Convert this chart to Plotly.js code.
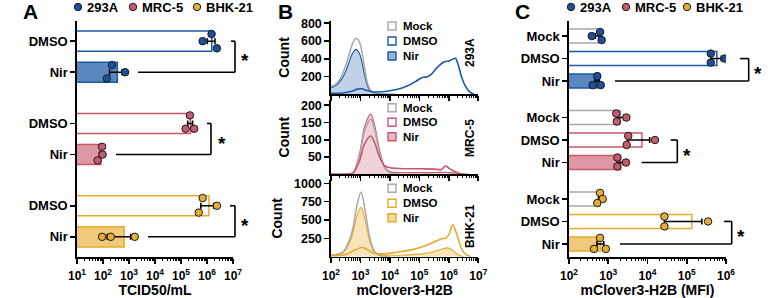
<!DOCTYPE html>
<html><head><meta charset="utf-8">
<script src="https://cdn.plot.ly/plotly-3.0.1.min.js"></script>
<style>html,body{margin:0;padding:0;background:#fff}#chart{width:784px;height:298px}</style>
</head><body><div id="chart"></div>
<script>
// ================= DATA =================
const cellLines = ['293A', 'MRC-5', 'BHK-21'];

// Panel A: virus titer (TCID50/mL), three replicates each
const titerTreatments = ['DMSO', 'Nir'];
const titer293A_DMSO = [6.8e5, 1.5e6, 2.4e6];
const titer293A_Nir = [220, 140, 710];
const titerMRC5_DMSO = [2.2e5, 1.5e5, 3.2e5];
const titerMRC5_Nir = [92, 96, 62];
const titerBHK21_DMSO = [6.8e5, 2.4e6, 4.8e5];
const titerBHK21_Nir = [92, 200, 1660];

// Panel C: mClover3-H2B MFI, three replicates each
const mfiTreatments = ['Mock', 'DMSO', 'Nir'];
const mfi293A_Mock = [380, 620, 680];
const mfi293A_DMSO = [4.1e5, 4.1e5, 9.3e5];
const mfi293A_Nir = [525, 400, 645];
const mfiMRC5_Mock = [1600, 1650, 2900];
const mfiMRC5_DMSO = [3240, 2950, 15500];
const mfiMRC5_Nir = [1700, 1700, 2830];
const mfiBHK21_Mock = [617, 720, 525];
const mfiBHK21_DMSO = [27000, 27000, 350000];
const mfiBHK21_Nir = [617, 433, 870];

// Panel B: histograms (log10 mClover3-H2B intensity, cell count)
const histTreatments = ['Mock', 'DMSO', 'Nir'];
const h293A_Mock_logx = [2.0, 2.15, 2.35, 2.5, 2.6, 2.73, 2.85, 2.95, 3.03, 3.14, 3.25, 3.37, 3.55, 3.8];
const h293A_Mock_n    = [90, 110, 200, 320, 430, 570, 630, 600, 510, 300, 110, 35, 5, 0];
const h293A_Nir_logx  = [2.0, 2.15, 2.35, 2.5, 2.6, 2.73, 2.85, 2.95, 3.03, 3.14, 3.25, 3.37, 3.55, 3.8, 4.2];
const h293A_Nir_n     = [75, 95, 165, 260, 350, 460, 505, 470, 390, 220, 85, 30, 8, 2, 0];
const h293A_DMSO_logx = [2.0, 2.4, 2.7, 2.9, 3.05, 3.2, 3.4, 3.7, 4.0, 4.3, 4.6, 4.9, 5.1, 5.25, 5.4, 5.6, 5.85, 6.0, 6.1, 6.22, 6.32, 6.42, 6.55, 6.7, 6.85];
const h293A_DMSO_n    = [10, 15, 35, 58, 62, 45, 28, 28, 40, 60, 95, 150, 190, 195, 225, 300, 365, 375, 390, 405, 330, 210, 100, 30, 0];

const hMRC5_Mock_logx = [2.0, 2.6, 2.75, 2.97, 3.14, 3.35, 3.48, 3.65, 3.82, 3.99, 4.3];
const hMRC5_Mock_n    = [0, 1, 4, 55, 125, 159, 130, 62, 18, 5, 0];
const hMRC5_Nir_logx  = [2.0, 2.6, 2.75, 2.97, 3.14, 3.35, 3.48, 3.65, 3.82, 3.99, 4.3, 5.0, 5.5, 5.9, 6.2, 6.5, 6.7];
const hMRC5_Nir_n     = [0, 1, 5, 61, 138, 174, 142, 70, 22, 8, 5, 5, 5, 6, 4, 1, 0];
const hMRC5_DMSO_logx = [2.0, 2.6, 2.75, 2.97, 3.14, 3.35, 3.48, 3.65, 3.82, 3.99, 4.3, 5.0, 5.5, 5.75, 5.88, 6.0, 6.2, 6.45, 6.6];
const hMRC5_DMSO_n    = [0, 1, 4, 40, 88, 111, 92, 50, 25, 19, 17, 16, 15, 14, 24, 18, 8, 1, 0];

const hBHK21_Mock_logx = [2.0, 2.4, 2.6, 2.75, 2.88, 3.02, 3.15, 3.3, 3.45, 3.6, 3.8, 4.0];
const hBHK21_Mock_n    = [20, 60, 200, 400, 700, 881, 650, 290, 90, 25, 5, 0];
const hBHK21_Nir_logx  = [2.0, 2.4, 2.6, 2.75, 2.88, 3.02, 3.15, 3.3, 3.45, 3.6, 4.0, 4.5, 5.0, 5.4, 5.7, 5.97, 6.15, 6.3, 6.5];
const hBHK21_Nir_n     = [20, 60, 170, 330, 560, 672, 520, 230, 80, 35, 20, 22, 35, 60, 95, 120, 80, 30, 0];
const hBHK21_DMSO_logx = [2.0, 2.5, 2.8, 3.05, 3.2, 3.4, 3.6, 4.0, 4.4, 4.8, 5.2, 5.5, 5.75, 5.9, 6.0, 6.13, 6.25, 6.35, 6.45, 6.6, 6.75];
const hBHK21_DMSO_n    = [10, 30, 90, 125, 105, 55, 40, 48, 70, 100, 150, 200, 245, 255, 300, 435, 330, 200, 90, 25, 0];

// Tick labels
const countTicks293A = [200, 400, 600, 800];
const countTicksMRC5 = [50, 100, 150, 200];
const countTicksBHK21 = [250, 500, 750, 1000];
const titerExponents = [1, 2, 3, 4, 5, 6, 7];
const histExponents = [2, 3, 4, 5, 6, 7];
const mfiExponents = [2, 3, 4, 5, 6];

// ================= STYLE / GEOMETRY =================
const FONT = 'Liberation Sans, Arial, Helvetica, sans-serif';
const W = 784, H = 298;
const px2x = p => p / W;
const px2y = p => 1 - p / H;
const lineCol = {'293A': '#1b5aa5', 'MRC-5': '#c9586e', 'BHK-21': '#e6aa2a'};
const barFill = {'293A': 'rgba(27,90,165,0.72)', 'MRC-5': 'rgba(201,88,110,0.62)', 'BHK-21': 'rgba(230,170,42,0.62)'};
const histFill = {'293A': 'rgba(27,90,165,0.27)', 'MRC-5': 'rgba(201,88,110,0.27)', 'BHK-21': 'rgba(230,170,42,0.32)'};
const legFill = {'293A': 'rgba(27,90,165,0.45)', 'MRC-5': 'rgba(201,88,110,0.4)', 'BHK-21': 'rgba(230,170,42,0.45)'};
const dotFill = {'293A': '#1d4f9a', 'MRC-5': '#c75a6f', 'BHK-21': '#e4ad33'};
const mockGray = '#a8a8a8';

// point jitter (fraction of row pitch)
const jitterA = {'293A': {DMSO: [0, -0.23, 0.23], Nir: [-0.23, 0.2, 0]},
                 'MRC-5': {DMSO: [-0.26, 0.17, 0.17], Nir: [-0.25, 0, 0.19]},
                 'BHK-21': {DMSO: [-0.25, 0, 0.22], Nir: [0, 0, 0]}};
const jitterC = {'293A': {Mock: [0, -0.18, 0.18], DMSO: [-0.22, 0.18, 0], Nir: [-0.22, 0.18, 0.18]},
                 'MRC-5': {Mock: [-0.18, 0.18, 0], DMSO: [-0.18, 0.22, 0], Nir: [-0.22, 0.18, 0]},
                 'BHK-21': {Mock: [-0.27, 0, 0.18], DMSO: [-0.22, 0.22, 0], Nir: [-0.27, 0.22, 0.22]}};

const titer = {'293A': {DMSO: titer293A_DMSO, Nir: titer293A_Nir},
               'MRC-5': {DMSO: titerMRC5_DMSO, Nir: titerMRC5_Nir},
               'BHK-21': {DMSO: titerBHK21_DMSO, Nir: titerBHK21_Nir}};
const mfi = {'293A': {Mock: mfi293A_Mock, DMSO: mfi293A_DMSO, Nir: mfi293A_Nir},
             'MRC-5': {Mock: mfiMRC5_Mock, DMSO: mfiMRC5_DMSO, Nir: mfiMRC5_Nir},
             'BHK-21': {Mock: mfiBHK21_Mock, DMSO: mfiBHK21_DMSO, Nir: mfiBHK21_Nir}};
const hist = {
  '293A': {Mock: [h293A_Mock_logx, h293A_Mock_n], DMSO: [h293A_DMSO_logx, h293A_DMSO_n], Nir: [h293A_Nir_logx, h293A_Nir_n]},
  'MRC-5': {Mock: [hMRC5_Mock_logx, hMRC5_Mock_n], DMSO: [hMRC5_DMSO_logx, hMRC5_DMSO_n], Nir: [hMRC5_Nir_logx, hMRC5_Nir_n]},
  'BHK-21': {Mock: [hBHK21_Mock_logx, hBHK21_Mock_n], DMSO: [hBHK21_DMSO_logx, hBHK21_DMSO_n], Nir: [hBHK21_Nir_logx, hBHK21_Nir_n]}};
const countTicks = {'293A': countTicks293A, 'MRC-5': countTicksMRC5, 'BHK-21': countTicksBHK21};

const mean = a => a.reduce((s, v) => s + v, 0) / a.length;
const sem = a => { const m = mean(a); return Math.sqrt(a.reduce((s, v) => s + (v - m) ** 2, 0) / (a.length - 1) / a.length); };

const traces = [], shapes = [], annotations = [];
const bold = (size) => ({family: FONT, size: size, color: '#000', weight: 'bold'});

// ---------- bar panels (A and C) ----------
function barPanel(data, treatments, jitter, groupPitch, thick, xa, ya) {
  const tickvals = [], ticktext = [];
  const pos = {};
  cellLines.forEach((cl, g) => {
    pos[cl] = {};
    const px = [], py = [];
    treatments.forEach((tr, i) => {
      const p = g * groupPitch + i;
      pos[cl][tr] = p;
      tickvals.push(p); ticktext.push(tr);
      const vals = data[cl][tr];
      const isMock = tr === 'Mock', isNir = tr === 'Nir';
      traces.push({type: 'bar', orientation: 'h', x: [mean(vals)], y: [p], width: thick,
        xaxis: xa, yaxis: ya, hoverinfo: 'skip',
        marker: {color: isNir ? barFill[cl] : '#ffffff', line: {color: isMock ? mockGray : lineCol[cl], width: 1.5}},
        error_x: {type: 'data', array: [sem(vals)], color: '#000', thickness: 1.6, width: 3}});
      vals.forEach((v, k) => { px.push(v); py.push(p + jitter[cl][tr][k]); });
    });
    traces.push({type: 'scatter', mode: 'markers', x: px, y: py, xaxis: xa, yaxis: ya, hoverinfo: 'skip',
      marker: {size: 7.5, color: dotFill[cl], line: {color: '#1a1a1a', width: 1}}});
  });
  return {tickvals, ticktext, pos};
}
const A = barPanel(titer, titerTreatments, jitterA, 2.65, 0.65, 'x', 'y');
const C = barPanel(mfi, mfiTreatments, jitterC, 3.62, 0.62, 'x5', 'y5');

function bracket(yref, p1, p2, xLow, xTop, xV, xStar) {
  const ln = {color: '#000', width: 1.6};
  shapes.push({type: 'line', xref: 'paper', yref: yref, x0: px2x(xTop), x1: px2x(xV), y0: p1, y1: p1, line: ln});
  shapes.push({type: 'line', xref: 'paper', yref: yref, x0: px2x(xV), x1: px2x(xV), y0: p1, y1: p2, line: ln});
  shapes.push({type: 'line', xref: 'paper', yref: yref, x0: px2x(xLow), x1: px2x(xV), y0: p2, y1: p2, line: ln});
  annotations.push({xref: 'paper', yref: yref, x: px2x(xStar), y: (p1 + p2) / 2, text: '*', showarrow: false,
    xanchor: 'center', yanchor: 'middle', yshift: -4, font: bold(19)});
}
bracket('y', A.pos['293A'].DMSO, A.pos['293A'].Nir, 138, 231, 235, 245);
bracket('y', A.pos['MRC-5'].DMSO, A.pos['MRC-5'].Nir, 116, 207, 211, 221.5);
bracket('y', A.pos['BHK-21'].DMSO, A.pos['BHK-21'].Nir, 148, 230, 235, 245);
bracket('y5', C.pos['293A'].DMSO, C.pos['293A'].Nir, 615, 740, 748.7, 758);
bracket('y5', C.pos['MRC-5'].DMSO, C.pos['MRC-5'].Nir, 641.7, 670.7, 677.3, 686.7);
bracket('y5', C.pos['BHK-21'].DMSO, C.pos['BHK-21'].Nir, 620, 724, 731.7, 740.7);

// ---------- histogram panel (B) ----------
const bAxes = [['x2', 'y2'], ['x3', 'y3'], ['x4', 'y4']];
cellLines.forEach((cl, g) => {
  const [xa, ya] = bAxes[g];
  const toX = arr => arr.map(v => Math.pow(10, v));
  const nir = hist[cl].Nir, mock = hist[cl].Mock, dmso = hist[cl].DMSO;
  traces.push({type: 'scatter', mode: 'lines', x: toX(nir[0]), y: nir[1], xaxis: xa, yaxis: ya, hoverinfo: 'skip',
    fill: 'tozeroy', fillcolor: histFill[cl], line: {color: lineCol[cl], width: 1.1, shape: 'spline', smoothing: 0.9}});
  traces.push({type: 'scatter', mode: 'lines', x: toX(mock[0]), y: mock[1], xaxis: xa, yaxis: ya, hoverinfo: 'skip',
    line: {color: mockGray, width: 1.5, shape: 'spline', smoothing: 0.9}});
  traces.push({type: 'scatter', mode: 'lines', x: toX(dmso[0]), y: dmso[1], xaxis: xa, yaxis: ya, hoverinfo: 'skip',
    line: {color: lineCol[cl], width: 1.6, shape: 'spline', smoothing: 0.9}});
});

// ---------- layout ----------
const axisBase = () => ({showline: true, linecolor: '#000', linewidth: 1.7, ticks: 'outside', tickcolor: '#000',
  tickwidth: 1.6, ticklen: 5, showgrid: false, zeroline: false, fixedrange: true, tickfont: bold(12)});
const powLabels = ex => ex.map(p => '10<sup>' + p + '</sup>');
const logX = (domPx, exps, anchor, labels) => Object.assign(axisBase(), {
  type: 'log', domain: [px2x(domPx[0]), px2x(domPx[1])], range: [exps[0], exps[exps.length - 1]], anchor: anchor,
  tickvals: exps.map(p => Math.pow(10, p)), ticktext: powLabels(exps), showticklabels: labels, ticklabelstandoff: 2});
// minor ticks (2..9 x 10^k) on an overlaying axis
const minorAxis = (domPx, exps, over, anchor) => {
  const vals = [];
  for (let p = exps[0]; p < exps[exps.length - 1]; p++) for (let m = 2; m <= 9; m++) vals.push(m * Math.pow(10, p));
  return {type: 'log', overlaying: over, anchor: anchor, domain: [px2x(domPx[0]), px2x(domPx[1])],
    range: [exps[0], exps[exps.length - 1]], tickvals: vals, showticklabels: false, ticks: 'outside', ticklen: 3,
    tickwidth: 1, tickcolor: '#000', showline: false, showgrid: false, zeroline: false, fixedrange: true};
};

const layout = {
  width: W, height: H, margin: {l: 0, r: 0, t: 0, b: 0}, paper_bgcolor: '#fff', plot_bgcolor: 'rgba(0,0,0,0)',
  showlegend: false, barmode: 'overlay', font: {family: FONT, color: '#000'},
  xaxis: Object.assign(logX([77, 233], titerExponents, 'y', true), {title: {text: 'TCID50/mL', font: bold(14), standoff: 0}}),
  yaxis: Object.assign(axisBase(), {domain: [px2y(257), px2y(21)], range: [6.95, -0.65], anchor: 'x',
    tickvals: A.tickvals, ticktext: A.ticktext, tickfont: bold(13)}),
  xaxis5: Object.assign(logX([569, 726], mfiExponents, 'y5', true), {title: {text: 'mClover3-H2B (MFI)', font: bold(14), standoff: 0}}),
  yaxis5: Object.assign(axisBase(), {domain: [px2y(257), px2y(21)], range: [9.82, -0.67], anchor: 'x5',
    tickvals: C.tickvals, ticktext: C.ticktext, tickfont: bold(13)}),
  xaxis6: minorAxis([77, 233], titerExponents, 'x', 'y'),
  xaxis10: minorAxis([569, 726], mfiExponents, 'x5', 'y5'),
  shapes: shapes, annotations: annotations
};
traces.push({type: 'scatter', x: [], y: [], xaxis: 'x6', yaxis: 'y'});
traces.push({type: 'scatter', x: [], y: [], xaxis: 'x10', yaxis: 'y5'});
const bDom = [[20.5, 94.3, 830], [100, 174.3, 215], [180, 256.7, 1045]];
cellLines.forEach((cl, g) => {
  const n = g + 2;
  layout['xaxis' + n] = logX([331, 478.3], histExponents, 'y' + n, g === 2);
  if (g === 2) layout['xaxis' + n].title = {text: 'mClover3-H2B', font: bold(14), standoff: 0};
  layout['yaxis' + n] = Object.assign(axisBase(), {domain: [px2y(bDom[g][1]), px2y(bDom[g][0])], range: [0, bDom[g][2]],
    anchor: 'x' + n, tickvals: countTicks[cl], tickfont: bold(12.5), title: {text: 'Count', font: bold(14), standoff: 8}});
  layout['xaxis' + (n + 5)] = minorAxis([331, 478.3], histExponents, 'x' + n, 'y' + n);
  traces.push({type: 'scatter', x: [], y: [], xaxis: 'x' + (n + 5), yaxis: 'y' + n});
});

// panel letters
[['A', 30], ['B', 285], ['C', 522]].forEach(([t, x]) => annotations.push({xref: 'paper', yref: 'paper',
  x: px2x(x), y: px2y(11), text: t, showarrow: false, xanchor: 'center', yanchor: 'middle', font: bold(21)}));

// top legends (A and C)
function topLegend(xs) {
  cellLines.forEach((cl, i) => {
    const cx = xs[i], cy = 7, r = 3.7;
    shapes.push({type: 'circle', xref: 'paper', yref: 'paper', x0: px2x(cx - r), x1: px2x(cx + r), y0: px2y(cy + r), y1: px2y(cy - r),
      fillcolor: dotFill[cl], line: {color: '#1a1a1a', width: 1}});
    annotations.push({xref: 'paper', yref: 'paper', x: px2x(cx + 6.5), y: px2y(cy), text: cl, showarrow: false,
      xanchor: 'left', yanchor: 'middle', font: bold(13)});
  });
}
topLegend([78, 133, 197]);
topLegend([571, 626, 687]);

// panel B legends and side labels
const bLegRows = [[26, 41, 56], [107.7, 122.3, 136.7], [188.3, 203.3, 217.7]];
const bSide = [53, 138, 226];
cellLines.forEach((cl, g) => {
  histTreatments.forEach((tr, i) => {
    const cy = bLegRows[g][i], cx = 392, s = 4;
    shapes.push({type: 'rect', xref: 'paper', yref: 'paper', x0: px2x(cx - s), x1: px2x(cx + s), y0: px2y(cy + s), y1: px2y(cy - s),
      fillcolor: tr === 'Nir' ? legFill[cl] : '#fff', line: {color: tr === 'Mock' ? mockGray : lineCol[cl], width: 1.4}});
    annotations.push({xref: 'paper', yref: 'paper', x: px2x(401), y: px2y(cy), text: tr, showarrow: false,
      xanchor: 'left', yanchor: 'middle', font: bold(11.5)});
  });
  annotations.push({xref: 'paper', yref: 'paper', x: px2x(470), y: px2y(bSide[g]), text: cl, showarrow: false,
    textangle: -90, xanchor: 'center', yanchor: 'middle', font: bold(12)});
});

Plotly.newPlot('chart', traces, layout, {staticPlot: true, displayModeBar: false});
</script></body></html>
